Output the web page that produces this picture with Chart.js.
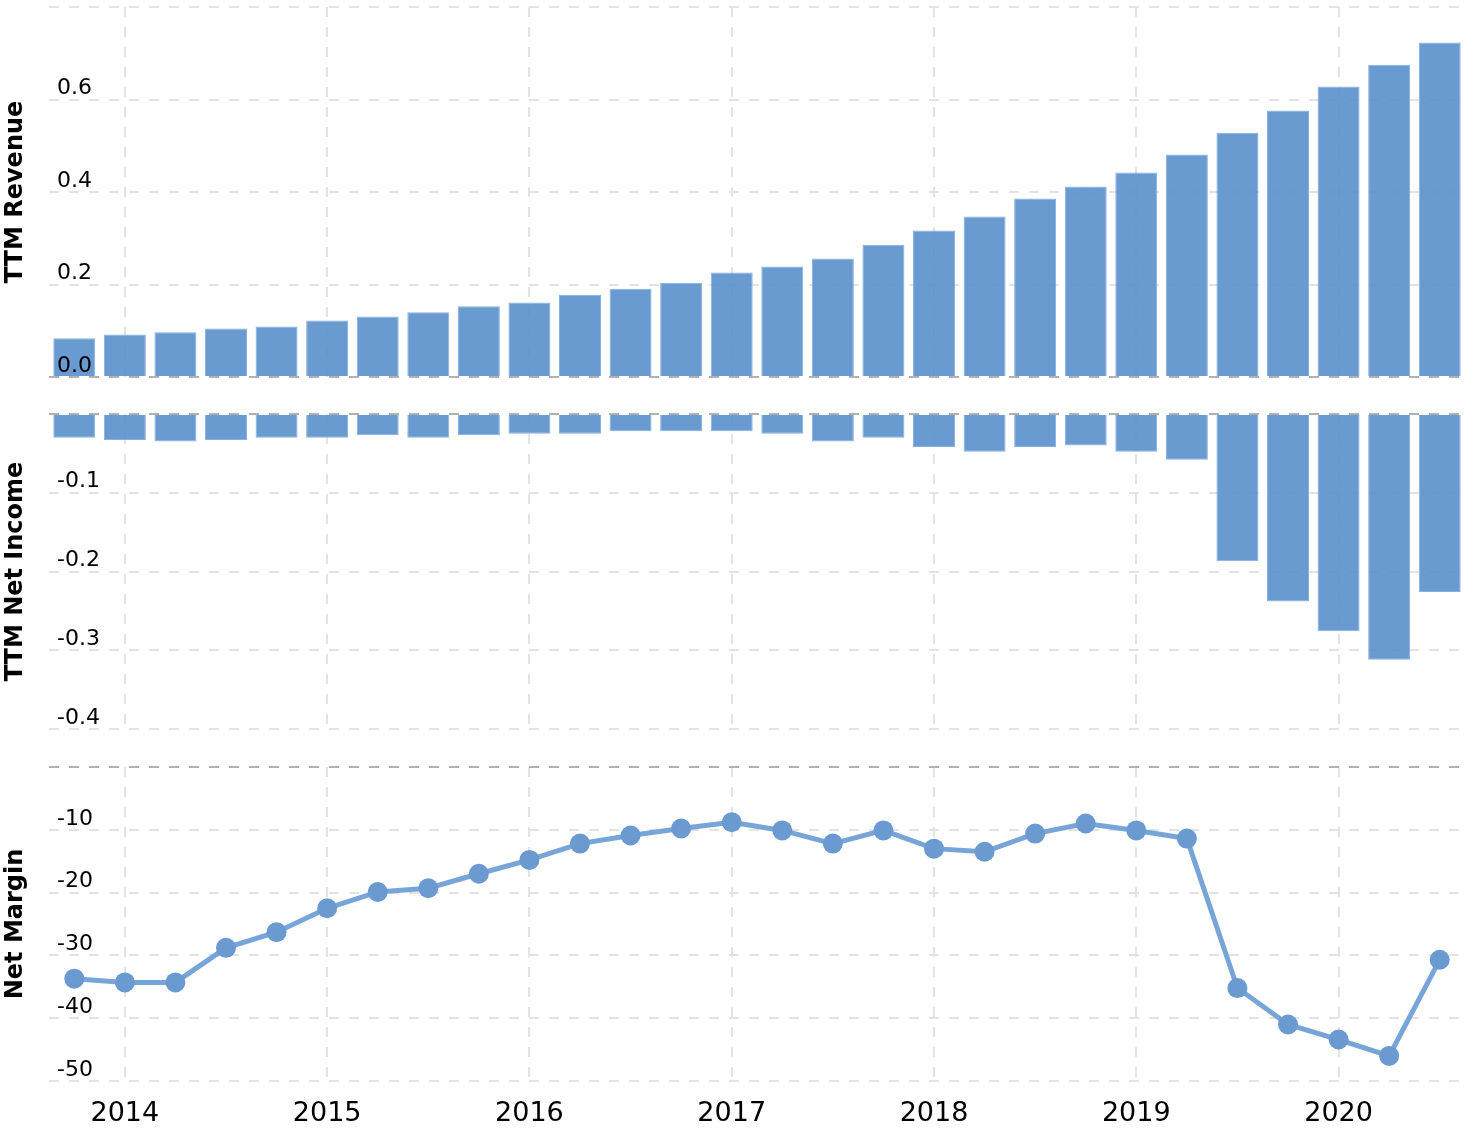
<!DOCTYPE html>
<html>
<head>
<meta charset="utf-8">
<title>TTM Revenue / Net Income / Net Margin</title>
<script src="https://cdn.jsdelivr.net/npm/chart.js@4/dist/chart.umd.min.js"></script>
<style>
  html, body { margin: 0; padding: 0; background: #fff; }
  #wrap { position: relative; width: 1468px; height: 1128px; }
  .panel { position: absolute; left: 0; width: 1468px; }
  #p1 { top: 0; height: 380px; }
  #p2 { top: 400px; height: 340px; }
  #p3 { top: 755px; height: 373px; }
</style>
</head>
<body>
<div id="wrap">
  <div class="panel" id="p1"><canvas id="revenueChart"></canvas></div>
  <div class="panel" id="p2"><canvas id="incomeChart"></canvas></div>
  <div class="panel" id="p3"><canvas id="marginChart"></canvas></div>
</div>
<script>
// quarter end dates
const quarters = [
  '2013-09-30', '2013-12-31', '2014-03-31', '2014-06-30', '2014-09-30', '2014-12-31',
  '2015-03-31', '2015-06-30', '2015-09-30', '2015-12-31', '2016-03-31', '2016-06-30',
  '2016-09-30', '2016-12-31', '2017-03-31', '2017-06-30', '2017-09-30', '2017-12-31',
  '2018-03-31', '2018-06-30', '2018-09-30', '2018-12-31', '2019-03-31', '2019-06-30',
  '2019-09-30', '2019-12-31', '2020-03-31', '2020-06-30'
];

// TTM revenue (billions)
const revenue = [
  0.084, 0.092, 0.097, 0.105, 0.109, 0.122, 0.131, 0.140, 0.153, 0.161, 0.178, 0.191,
  0.204, 0.226, 0.239, 0.256, 0.286, 0.317, 0.347, 0.386, 0.412, 0.442, 0.481, 0.528,
  0.576, 0.628, 0.675, 0.723
];

// TTM net income (billions)
const netIncome = [
  -0.030, -0.033, -0.035, -0.033, -0.030, -0.030, -0.027, -0.030, -0.027, -0.025, -0.025, -0.022,
  -0.022, -0.022, -0.025, -0.035, -0.030, -0.042, -0.048, -0.042, -0.040, -0.048, -0.058, -0.187,
  -0.238, -0.276, -0.312, -0.226
];

// net margin (%)
const netMargin = [
  -33.7, -34.3, -34.3, -28.8, -26.3, -22.5, -19.9, -19.3, -17.0, -14.8, -12.2, -10.9,
  -9.8, -8.8, -10.1, -12.2, -10.1, -13.0, -13.5, -10.6, -9.0, -10.1, -11.4, -35.2,
  -41.0, -43.4, -46.0, -30.7
];

const FONT = "'DejaVu Sans', Verdana, sans-serif";
const GRID = '#e3e3e3';
const ZERO = '#b0b0b0';
const BAR_FILL = 'rgba(89,143,203,0.9)';
const BAR_EDGE = 'rgba(128,172,222,0.95)';

// dec 31 quarters sit on the next year's gridline
const yearLabel = (q) => q.endsWith('-12-31') ? String(Number(q.slice(0, 4)) + 1) : '';

const makeOptions = (yMin, yMax, step, title, decimals, padding, showX) => ({
  responsive: true,
  maintainAspectRatio: false,
  animation: false,
  layout: { padding, autoPadding: false },
  plugins: { legend: { display: false }, tooltip: { enabled: false } },
  scales: {
    x: {
      offset: true,
      // chart.js counts tick padding twice, keep the axis box tight
      afterFit: (s) => { s.paddingLeft = 0; s.paddingRight = 0; if (showX) s.height = 46; },
      grid: {
        offset: false,
        drawTicks: false,
        lineWidth: 2,
        color: (ctx) => yearLabel(quarters[ctx.index] || '') ? GRID : 'rgba(0,0,0,0)'
      },
      border: { display: false, dash: [10, 10] },
      ticks: {
        display: showX,
        autoSkip: false,
        maxRotation: 0,
        padding: 17,
        color: '#000',
        font: { family: FONT, size: 27 },
        callback: (v, i) => yearLabel(quarters[i])
      }
    },
    y: {
      min: yMin,
      max: yMax,
      // labels sit inside the plot, so no room is needed around the axis
      afterFit: (s) => { s.width = 49; s.paddingTop = 0; s.paddingBottom = 0; },
      grid: {
        drawTicks: false,
        lineWidth: 2,
        color: (ctx) => (ctx.tick && Math.abs(ctx.tick.value) < 1e-9) ? ZERO : GRID
      },
      border: { display: false, dash: [10, 10] },
      ticks: {
        stepSize: step,
        mirror: true,
        padding: 8,
        labelOffset: -11,
        z: 1,
        color: '#000',
        font: { family: FONT, size: 22 },
        callback: (v) => Math.abs(v - yMax) < 1e-9 ? '' : Number(v).toFixed(decimals)
      },
      title: {
        display: true,
        text: title,
        color: '#000',
        font: { family: FONT, size: 24, weight: 'bold' },
        padding: { top: 1, bottom: 0 }
      }
    }
  }
});

const barDataset = (label, data) => ({
  label,
  data,
  backgroundColor: BAR_FILL,
  borderColor: BAR_EDGE,
  borderWidth: 1,
  barPercentage: 0.83,
  categoryPercentage: 1
});

// TTM Revenue
new Chart(document.getElementById('revenueChart'), {
  type: 'bar',
  data: { labels: quarters, datasets: [barDataset('TTM Revenue', revenue)] },
  options: makeOptions(0, 0.8, 0.2, 'TTM Revenue', 1, { top: 7, bottom: 3, left: 0, right: 3 }, false)
});

// TTM Net Income
new Chart(document.getElementById('incomeChart'), {
  type: 'bar',
  data: { labels: quarters, datasets: [barDataset('TTM Net Income', netIncome)] },
  options: makeOptions(-0.4, 0, 0.1, 'TTM Net Income', 1, { top: 14, bottom: 11, left: 0, right: 3 }, false)
});

// Net Margin
new Chart(document.getElementById('marginChart'), {
  type: 'line',
  data: {
    labels: quarters,
    datasets: [{
      label: 'Net Margin',
      data: netMargin,
      borderColor: '#78a5d8',
      borderWidth: 5,
      pointRadius: 10,
      pointBorderWidth: 0,
      pointBackgroundColor: '#6a9ad0',
      tension: 0
    }]
  },
  options: makeOptions(-50, 0, 10, 'Net Margin', 0, { top: 12, bottom: 1, left: 0, right: 3 }, true)
});
</script>
</body>
</html>
